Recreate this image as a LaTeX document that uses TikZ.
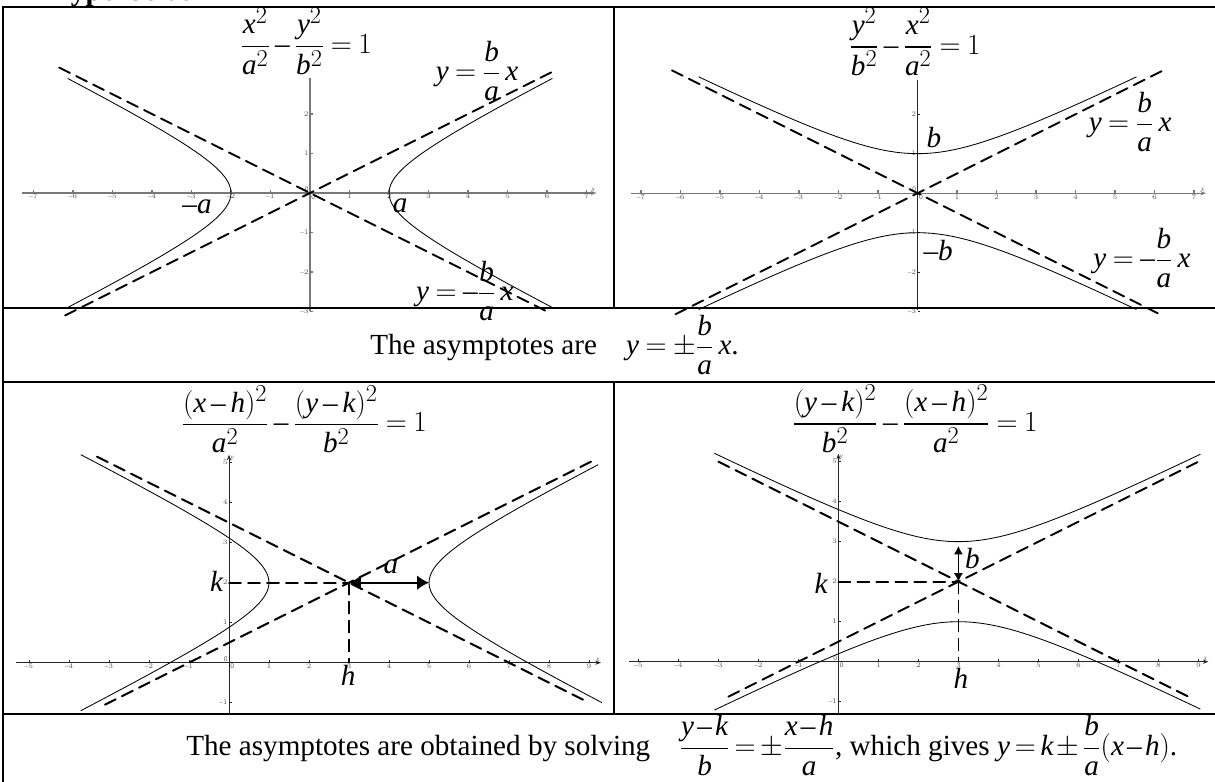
\documentclass[tikz,border=0pt]{standalone}
\usepackage{amsmath}
\usepackage{fontspec}
\setmainfont{Liberation Serif}
\usepackage[italic]{mathastext}
\usepackage{tkz-euclide}
\usetikzlibrary{arrows.meta,calc}
\medmuskip=3mu plus 1mu minus 3mu
\thickmuskip=4mu plus 2mu
\definecolor{AxisClr}{rgb}{0.47,0.47,0.47}
\definecolor{TickClr}{rgb}{0.35,0.35,0.35}
\tikzset{
  rulebar/.style={line width=1.8pt},
  asymptote/.style={line width=1.4pt,dash pattern=on 8.5pt off 5pt},
  branch/.style={line width=0.6pt},
  axisgray/.style={AxisClr,line width=0.9pt},
  axisdark/.style={black!85,line width=0.6pt},
  ticklabel/.style={TickClr,inner sep=0.8pt,font=\sffamily\fontsize{5}{6}\selectfont},
  rowtext/.style={anchor=base west,inner sep=0pt},
  twohead/.style={line width=1.4pt,{Latex[length=8.5pt,width=10.5pt]}-{Latex[length=8.5pt,width=10.5pt]}},
  twoheadsmall/.style={line width=1.2pt,{Latex[length=6pt,width=6.5pt]}-{Latex[length=6pt,width=6.5pt]}},
}

\begin{document}
\begin{tikzpicture}[font=\huge]
\tkzSetUpLine[line width=1.4pt,color=black]
\useasboundingbox (0,0) rectangle (30.375,19.55);

\node[rowtext,font=\huge\bfseries] (title) at (1.2,19.53) {Hyperbolas};

% top left panel
\begin{scope}[shift={(7.75,14.725)},scale=0.9875]
\draw[axisgray,-{Stealth[length=4pt,width=3pt]}] (-7.3,0) -- (7.25,0) node[ticklabel,above left] (xTL) {$x$};
\draw[axisgray] (0,-2.98) -- (0,2.9);
\foreach \i in {-7,...,-1,1,2,...,7}{
  \draw[axisgray] (\i,0) -- (\i,0.07);
  \node[ticklabel,below] (tTLx\i) at (\i,0) {$\i$};}
\foreach \i in {-3,-2,-1,1,2}{
  \draw[axisgray] (0,\i) -- (0.07,\i);
  \node[ticklabel,left] (tTLy\i) at (0,\i) {$\i$};}
\node[ticklabel,below right] (oTLx) at (0,0) {0};
\node[ticklabel,above left] (oTLy) at (0,0) {0};
\draw[branch] plot[domain=-2.9:2.9,samples=61] ({2*sqrt(1+\x*\x)},\x);
\draw[branch] plot[domain=-2.9:2.9,samples=61] ({-2*sqrt(1+\x*\x)},\x);
\tkzDefPoints{-6.35/3.175/TLp,6.1/-3.05/TLq,-6.2/-3.1/TLr,6.15/3.075/TLs}
\tkzDrawSegments[asymptote](TLp,TLq TLr,TLs)
\node (eqTL) at (-0.1,3.84) {$\dfrac{x^2}{a^2}-\dfrac{y^2}{b^2}=1$};
\node (upTL) at (4.23,3.09) {$y=\dfrac{b}{a}\,x$};
\node (dnTL) at (3.92,-2.48) {$y=-\dfrac{b}{a}\,x$};
\node (maTL) at (-2.86,-0.35) {$-a$};
\node (paTL) at (2.28,-0.33) {$a$};
\end{scope}

% top right panel
\begin{scope}[shift={(22.94,14.72)},scale=0.9875]
\draw[axisgray,-{Stealth[length=4pt,width=3pt]}] (-7.25,0) -- (7.3,0) node[ticklabel,above left] (xTR) {$x$};
\draw[axisdark] (0,-2.95) -- (0,2.87);
\foreach \i in {-7,...,-1,1,2,...,7}{
  \draw[axisgray] (\i,0) -- (\i,0.07);
  \node[ticklabel,below] (tTRx\i) at (\i,0) {$\i$};}
\foreach \i in {-3,-2,-1,1,2}{
  \draw[axisdark] (0,\i) -- (0.07,\i);
  \node[ticklabel,left] (tTRy\i) at (0,\i) {$\i$};}
\node[ticklabel,below right] (oTRx) at (0,0) {0};
\node[ticklabel,above left] (oTRy) at (0,0) {0};
\draw[branch] plot[domain=-5.54:5.54,samples=61] (\x,{sqrt(1+\x*\x/4)});
\draw[branch] plot[domain=-5.54:5.54,samples=61] (\x,{-sqrt(1+\x*\x/4)});
\tkzDefPoints{-6.22/3.11/TRp,6.08/-3.04/TRq,-6.13/-3.065/TRr,6.2/3.1/TRs}
\tkzDrawSegments[asymptote](TRp,TRq TRr,TRs)
\node (eqTR) at (-0.07,3.83) {$\dfrac{y^2}{b^2}-\dfrac{x^2}{a^2}=1$};
\node (upTR) at (5.38,1.8) {$y=\dfrac{b}{a}\,x$};
\node (dnTR) at (5.68,-1.64) {$y=-\dfrac{b}{a}\,x$};
\node (pbTR) at (0.41,1.42) {$b$};
\node (mbTR) at (0.52,-1.44) {$-b$};
\end{scope}

% bottom left panel
\begin{scope}[shift={(5.725,2.983)}]
\draw[axisdark,-{Stealth[length=4pt,width=3pt]}] (-5.33,0) -- (9.3,0) node[ticklabel,above left] (xBL) {$x$};
\draw[axisdark,-{Stealth[length=4pt,width=3pt]}] (0,-1.28) -- (0,5.2) node[ticklabel,below right] (yBL) {$y$};
\foreach \i in {-5,...,-1,1,2,...,9}{
  \draw[axisdark] (\i,0) -- (\i,0.07);
  \node[ticklabel,below] (tBLx\i) at (\i,0) {$\i$};}
\foreach \i in {-1,1,2,...,5}{
  \draw[axisdark] (0,\i) -- (0.07,\i);
  \node[ticklabel,left] (tBLy\i) at (0,\i) {$\i$};}
\node[ticklabel,below right] (oBLx) at (0,0) {0};
\node[ticklabel,above left] (oBLy) at (0,0) {0};
\draw[branch] plot[domain=-1.2:5.2,samples=61] ({3-2*sqrt(1+(\x-2)*(\x-2))},\x);
\draw[branch] plot[domain=-1.0:4.95,samples=61] ({3+2*sqrt(1+(\x-2)*(\x-2))},\x);
\tkzDefPoints{-3.1/-1.05/BLp,9.1/5.05/BLq,-3.3/5.15/BLr,8.85/-0.925/BLs,0/2/BLk,3/2/BLc,3/0/BLh,5/2/BLv}
\tkzDrawSegments[asymptote](BLp,BLq BLr,BLs)
\tkzDrawSegments[asymptote,line width=1.2pt](BLk,BLc BLc,BLh)
\draw[twohead] (BLc) -- (BLv);
\node (eqBL) at (1.875,6.08) {$\dfrac{(x-h)^2}{a^2}-\dfrac{(y-k)^2}{b^2}=1$};
\node (kBL) at (-0.31,2.02) {$k$};
\node (hBL) at (2.98,-0.31) {$h$};
\node (aBL) at (4.05,2.39) {$a$};
\end{scope}

% bottom right panel
\begin{scope}[shift={(20.96,3.008)}]
\draw[axisdark,-{Stealth[length=4pt,width=3pt]}] (-5.24,0) -- (9.25,0) node[ticklabel,above left] (xBR) {$x$};
\draw[axisdark,-{Stealth[length=4pt,width=3pt]}] (0,-1.3) -- (0,5.2) node[ticklabel,below right] (yBR) {$y$};
\foreach \i in {-5,...,-1,1,2,...,9}{
  \draw[axisdark] (\i,0) -- (\i,0.07);
  \node[ticklabel,below] (tBRx\i) at (\i,0) {$\i$};}
\foreach \i in {-1,1,2,...,5}{
  \draw[axisdark] (0,\i) -- (0.07,\i);
  \node[ticklabel,left] (tBRy\i) at (0,\i) {$\i$};}
\node[ticklabel,below right] (oBRx) at (0,0) {0};
\node[ticklabel,above left] (oBRy) at (0,0) {0};
\draw[branch] plot[domain=-3.1:9.05,samples=61] (\x,{2+sqrt(1+(\x-3)*(\x-3)/4)});
\draw[branch] plot[domain=-3.1:9.05,samples=61] (\x,{2-sqrt(1+(\x-3)*(\x-3)/4)});
\tkzDefPoints{-2.75/-0.875/BRp,9/5/BRq,-3/5/BRr,8.77/-0.885/BRs,0/2/BRk,3/2/BRc,3/0/BRh,3/3/BRv}
\tkzDrawSegments[asymptote](BRp,BRq BRr,BRs)
\tkzDrawSegments[asymptote,line width=1.2pt](BRk,BRc BRc,BRh)
\draw[twoheadsmall,shorten >=3pt] (BRc) -- (BRv);
\node (eqBR) at (1.91,6.07) {$\dfrac{(y-k)^2}{b^2}-\dfrac{(x-h)^2}{a^2}=1$};
\node (kBR) at (-0.43,1.96) {$k$};
\node (hBR) at (3.06,-0.41) {$h$};
\node (bBR) at (3.35,2.59) {$b$};
\end{scope}

% table rules
\draw[rulebar] (0.075,-0.2) -- (0.075,19.375) -- (30.45,19.375);
\draw[rulebar] (0.075,11.85) -- (30.45,11.85);
\draw[rulebar] (0.075,10) -- (30.45,10);
\draw[rulebar] (0.075,1.7) -- (30.45,1.7);
\draw[rulebar] (15.35,19.375) -- (15.35,11.85);
\draw[rulebar] (15.35,10) -- (15.35,1.7);

\node[rowtext] (midtxt) at (9.25,10.675) {The asymptotes are\quad $y=\pm\dfrac{b}{a}\,x.$};
\node[rowtext] (bottxt) at (4.65,0.66) {\medmuskip=2mu\thickmuskip=3mu The asymptotes are obtained by solving\quad $\dfrac{y-k}{b}=\pm\dfrac{x-h}{a}$, which gives $y=k\pm\dfrac{b}{a}(x-h)$.};
\end{tikzpicture}
\end{document}
